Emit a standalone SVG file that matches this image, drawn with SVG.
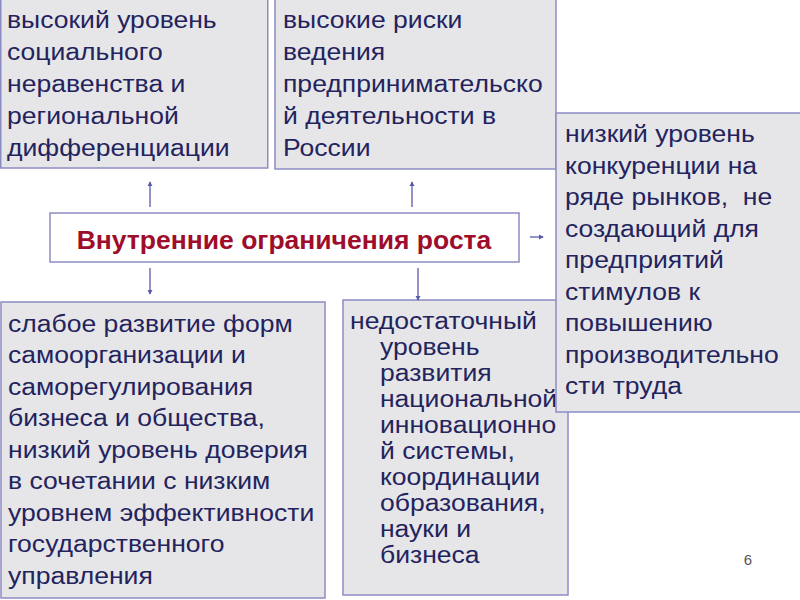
<svg xmlns="http://www.w3.org/2000/svg" width="800" height="600" viewBox="0 0 800 600">
<defs>
<style>
.box{fill:#e6e6e8;stroke:#8c8cc4;stroke-width:1.5}
.cbox{fill:#ffffff;stroke:#8c8cc4;stroke-width:1.5}
.t{font-family:"Liberation Sans",Arial,sans-serif;font-size:23.5px;fill:#23235e}
.c{font-family:"Liberation Sans",Arial,sans-serif;font-size:26.5px;font-weight:bold;fill:#9e0e2c}
.arr{stroke:#5a5aaa;stroke-width:1.3;fill:none;marker-end:url(#ah)}
.pg{font-family:"Liberation Sans",Arial,sans-serif;font-size:15px;fill:#555555}
</style>
<marker id="ah" viewBox="0 0 6 6" refX="5" refY="3" markerWidth="4" markerHeight="4" orient="auto">
<path d="M0,0 L6,3 L0,6 z" fill="#5a5aaa"/>
</marker>
</defs>
<rect width="800" height="600" fill="#ffffff"/>

<g id="n1">
<rect class="box" x="0.75" y="-1" width="267" height="169"/>
<g transform="translate(7,0) scale(1.13,1)">
<text class="t" x="0" y="28">высокий уровень</text>
<text class="t" x="0" y="60">социального</text>
<text class="t" x="0" y="92">неравенства и</text>
<text class="t" x="0" y="124">региональной</text>
<text class="t" x="0" y="156">дифференциации</text>
</g>
</g>

<g id="n2">
<rect class="box" x="275" y="-1" width="281" height="170"/>
<g transform="translate(283,0) scale(1.13,1)">
<text class="t" x="0" y="28">высокие риски</text>
<text class="t" x="0" y="60">ведения</text>
<text class="t" x="0" y="92">предпринимательско</text>
<text class="t" x="0" y="124">й деятельности в</text>
<text class="t" x="0" y="156">России</text>
</g>
</g>

<g id="n5">
<rect class="box" x="343" y="300" width="225" height="295"/>
<g transform="translate(350,0) scale(1.13,1)">
<text class="t" x="0" y="329">недостаточный</text>
<text class="t" x="26.5" y="355">уровень</text>
<text class="t" x="26.5" y="381">развития</text>
<text class="t" x="26.5" y="407">национальной</text>
<text class="t" x="26.5" y="433">инновационно</text>
<text class="t" x="26.5" y="459">й системы,</text>
<text class="t" x="26.5" y="485">координации</text>
<text class="t" x="26.5" y="511">образования,</text>
<text class="t" x="26.5" y="537">науки и</text>
<text class="t" x="26.5" y="563">бизнеса</text>
</g>
</g>

<g id="n3">
<rect class="box" x="556" y="113" width="246" height="299"/>
<g transform="translate(565,0) scale(1.13,1)">
<text class="t" x="0" y="142">низкий уровень</text>
<text class="t" x="0" y="174">конкуренции на</text>
<text class="t" x="0" y="205" xml:space="preserve">ряде рынков,  не</text>
<text class="t" x="0" y="237">создающий для</text>
<text class="t" x="0" y="268">предприятий</text>
<text class="t" x="0" y="300">стимулов к</text>
<text class="t" x="0" y="331">повышению</text>
<text class="t" x="0" y="363">производительно</text>
<text class="t" x="0" y="394">сти труда</text>
</g>
</g>

<g id="n4">
<rect class="box" x="1" y="302" width="324" height="296"/>
<g transform="translate(8,0) scale(1.13,1)">
<text class="t" x="0" y="332">слабое развитие форм</text>
<text class="t" x="0" y="363">самоорганизации и</text>
<text class="t" x="0" y="395">саморегулирования</text>
<text class="t" x="0" y="426">бизнеса и общества,</text>
<text class="t" x="0" y="458">низкий уровень доверия</text>
<text class="t" x="0" y="489">в сочетании с низким</text>
<text class="t" x="0" y="521">уровнем эффективности</text>
<text class="t" x="0" y="552">государственного</text>
<text class="t" x="0" y="584">управления</text>
</g>
</g>

<g id="center">
<rect class="cbox" x="50" y="213" width="469" height="49"/>
<text class="c" x="284" y="249" text-anchor="middle">Внутренние ограничения роста</text>
</g>

<g id="connectors">
<line class="arr" x1="150" y1="207" x2="150" y2="182"/>
<line class="arr" x1="412" y1="207" x2="412" y2="182"/>
<line class="arr" x1="530" y1="237" x2="543" y2="237"/>
<line class="arr" x1="150" y1="268" x2="150" y2="294"/>
<line class="arr" x1="418" y1="268" x2="418" y2="300"/>
</g>

<text class="pg" x="748" y="565" text-anchor="middle">6</text>
</svg>
